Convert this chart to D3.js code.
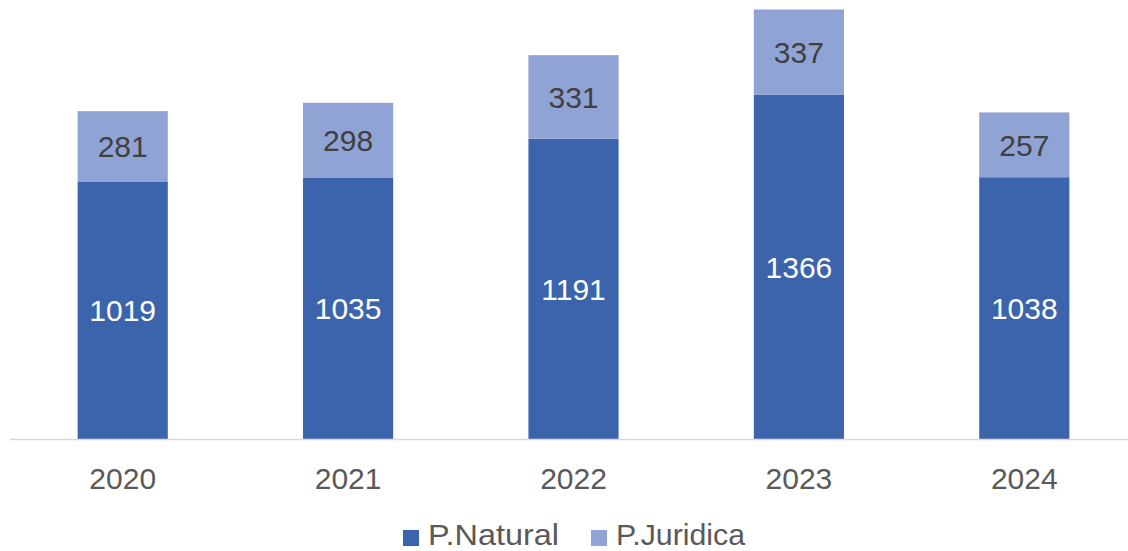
<!DOCTYPE html>
<html><head><meta charset="utf-8">
<script src="https://cdn.jsdelivr.net/npm/d3@7"></script>
<style>body{margin:0;background:#fff}svg{display:block}</style>
</head><body>
<svg id="c" width="1128" height="551"></svg>
<script>
const years = ["2020","2021","2022","2023","2024"];
const natural = [1019,1035,1191,1366,1038];
const juridica = [281,298,331,337,257];
const seriesNames = ["P.Natural","P.Juridica"];
const colors = ["#3c64ac","#8fa3d4"];

const svg = d3.select("#c");
const baseY = 439, left = 10, right = 1128;
const x = d3.scaleBand().domain(years).range([10, 1137]).paddingInner(0.6).paddingOuter(0.3);
const y = d3.scaleLinear().domain([0, 1703]).range([baseY, 9.5]);

const data = years.map((yr,i)=>({year:yr, natural:natural[i], juridica:juridica[i]}));
const stack = d3.stack().keys(["natural","juridica"])(data);

const g = svg.append("g");
stack.forEach((s,si)=>{
  g.selectAll(null).data(s).enter().append("rect")
    .attr("x", d=>x(d.data.year))
    .attr("width", x.bandwidth())
    .attr("y", d=>y(d[1]))
    .attr("height", d=>y(d[0])-y(d[1]))
    .attr("fill", colors[si]);
});

// axis line
svg.append("line").attr("x1",left).attr("x2",right).attr("y1",baseY+0.5).attr("y2",baseY+0.5)
  .attr("stroke","#d9d9d9").attr("stroke-width",1.5);

// value labels
const font = "'Liberation Sans', Arial, sans-serif";
stack.forEach((s,si)=>{
  g.selectAll(null).data(s).enter().append("text")
    .attr("x", d=>x(d.data.year)+x.bandwidth()/2)
    .attr("y", d=>(y(d[0])+y(d[1]))/2)
    .attr("dy","0.36em")
    .attr("text-anchor","middle")
    .attr("font-family",font).attr("font-size",30)
    .attr("fill", si===0?"#ffffff":"#404040")
    .text(d=>d[1]-d[0]);
});

// x axis labels
const xAxis = d3.axisBottom(x).tickSize(0).tickPadding(0);
const ax = svg.append("g").attr("transform",`translate(0,${baseY})`).call(xAxis);
ax.select(".domain").remove();
ax.selectAll("text").attr("font-family",font).attr("font-size",30).attr("fill","#595959")
  .attr("y",39).attr("dy","0.36em");

// legend
const legX = [403, 591];
const legW = [131, 129];
seriesNames.forEach((n,i)=>{
  svg.append("rect").attr("x",legX[i]).attr("y",530).attr("width",16).attr("height",16).attr("fill",colors[i]);
  svg.append("text").attr("x",legX[i]+25).attr("y",545)
    .attr("font-family",font).attr("font-size",29).attr("fill","#595959")
    .attr("textLength",legW[i]).attr("lengthAdjust","spacingAndGlyphs").text(n);
});
</script>
</body></html>
